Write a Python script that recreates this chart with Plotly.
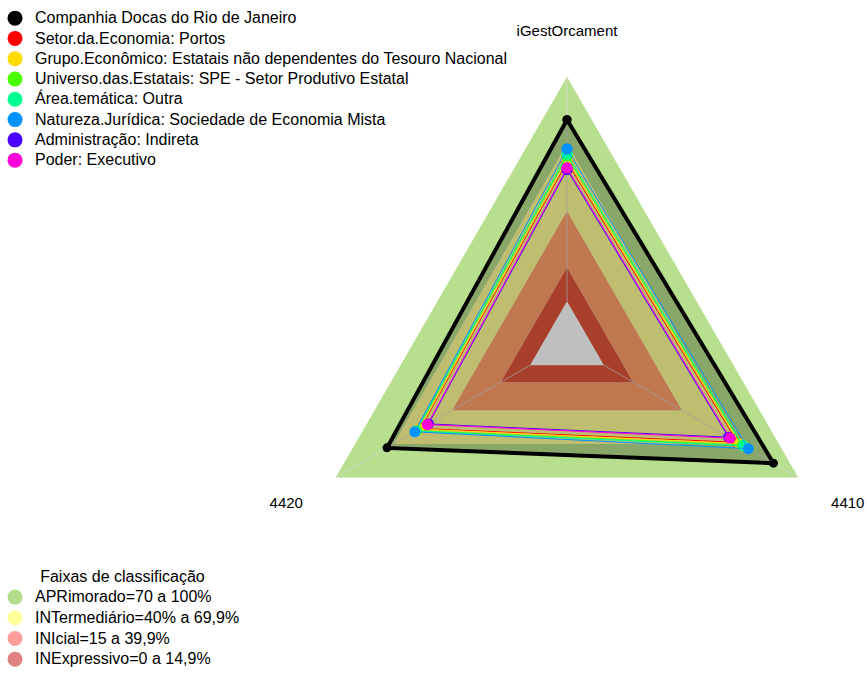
import plotly.graph_objects as go

# Indicator axes (clockwise from the top)
categories = ["iGestOrcament", "4410", "4420"]

# Series names, colours and scores (0-100) per indicator
series_names = [
    "Companhia Docas do Rio de Janeiro",
    "Setor.da.Economia: Portos",
    "Grupo.Econômico: Estatais não dependentes do Tesouro Nacional",
    "Universo.das.Estatais: SPE - Setor Produtivo Estatal",
    "Área.temática: Outra",
    "Natureza.Jurídica: Sociedade de Economia Mista",
    "Administração: Indireta",
    "Poder: Executivo",
]
series_colors = ["#000000", "#FF0000", "#FFDB00", "#49FF00",
                 "#00FF92", "#0092FF", "#4900FF", "#FF00DB"]
companhia = [80.8, 87.1, 73.5]
setor = [62.0, 68.6, 56.2]
grupo = [62.9, 69.6, 56.8]
universo = [64.6, 71.0, 58.2]
area = [65.5, 71.7, 58.6]
natureza = [67.7, 74.2, 59.2]
administracao = [58.6, 64.0, 52.2]
poder = [59.4, 64.8, 52.8]
series_values = [companhia, setor, grupo, universo, area, natureza,
                 administracao, poder]

# Classification bands
band_names = ["APRimorado=70 a 100%", "INTermediário=40% a 69,9%",
              "INIcial=15 a 39,9%", "INExpressivo=0 a 14,9%"]
band_low = [70, 40, 15, 0]
band_high = [100, 70, 40, 15]
band_fill = ["#b8df8e", "#fffd94", "#ffa06b", "#e05538"]
band_legend_color = ["#b3dd8a", "#ffff9c", "#ff9c9c", "#de8282"]

FONT = "Arial, Liberation Sans, sans-serif"


def legend_label(text):
    return '<span style="font-size:16px">%s</span>' % text


fig = go.Figure()

# Band rings: outer polygon forward, inner polygon backwards
ring_theta = categories + [categories[0]] + [categories[0]] + categories[:0:-1] + [categories[0]]
for lo, hi, col in zip(band_low, band_high, band_fill):
    fig.add_trace(go.Scatterpolar(
        r=[hi] * 4 + [lo] * 4, theta=ring_theta,
        mode="lines", fill="toself", fillcolor=col,
        line=dict(width=0, color=col), showlegend=False,
        hoverinfo="skip",
    ))

# Spokes from the inner edge to the outer edge of the bands
spoke_r, spoke_t = [], []
for c in categories:
    spoke_r += [min(band_low), max(band_high), None]
    spoke_t += [c, c, None]
fig.add_trace(go.Scatterpolar(
    r=spoke_r, theta=spoke_t, mode="lines",
    line=dict(color="rgba(215,215,215,0.75)", width=1),
    showlegend=False, hoverinfo="skip",
))

# Series polygons
closed_theta = categories + [categories[0]]
for i, (name, col, vals) in enumerate(zip(series_names, series_colors, series_values)):
    main = i == 0
    fig.add_trace(go.Scatterpolar(
        r=vals + [vals[0]], theta=closed_theta,
        mode="lines+markers", name=name, legendgroup=name,
        line=dict(color=col, width=4 if main else 1),
        marker=dict(color=col, size=9 if main else 11),
        fill="toself" if main else "none",
        fillcolor="rgba(0,0,0,0.25)" if main else None,
        showlegend=False,
    ))
    # legend entry
    fig.add_trace(go.Scatterpolar(
        r=[None], theta=[None], mode="markers", name=legend_label(name),
        legendgroup=name, marker=dict(color=col, size=15), legend="legend",
    ))

for name, col in zip(band_names, band_legend_color):
    fig.add_trace(go.Scatterpolar(
        r=[None], theta=[None], mode="markers", name=legend_label(name),
        marker=dict(color=col, size=15), legend="legend2",
    ))

fig.update_layout(
    width=867, height=675,
    margin=dict(l=0, r=0, t=0, b=0),
    paper_bgcolor="white",
    font=dict(family=FONT, size=16, color="#000000"),
    polar=dict(
        domain=dict(x=[298 / 867, 836 / 867], y=[60 / 675, 598 / 675]),
        bgcolor="rgba(0,0,0,0)",
        gridshape="linear",
        radialaxis=dict(visible=False, range=[-19, 100]),
        angularaxis=dict(
            type="category", categoryarray=categories,
            rotation=90, direction="clockwise",
            showgrid=False, showline=False,
            ticks="outside", ticklen=34, tickcolor="rgba(0,0,0,0)",
            tickfont=dict(size=15, family=FONT),
        ),
    ),
    legend=dict(
        x=0, y=1 - 3 / 675, xanchor="left", yanchor="top",
        bgcolor="rgba(0,0,0,0)", tracegroupgap=0, indentation=-5,
        font=dict(size=13.3, family=FONT),
    ),
    legend2=dict(
        x=0, y=-4 / 675, xanchor="left", yanchor="bottom",
        bgcolor="rgba(0,0,0,0)", indentation=-5,
        title=dict(text="Faixas de classificação", side="top center",
                   font=dict(size=16, family=FONT)),
        font=dict(size=13.6, family=FONT),
    ),
    showlegend=True,
)

fig.write_html("out.html")
